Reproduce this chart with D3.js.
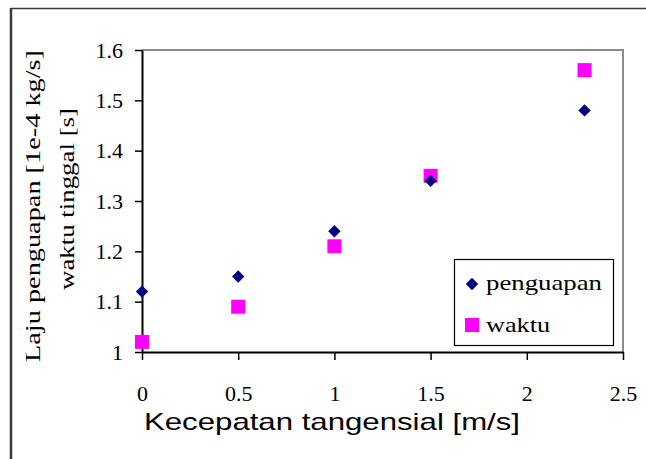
<!DOCTYPE html>
<html>
<head>
<meta charset="utf-8">
<script src="https://cdn.jsdelivr.net/npm/d3@7"></script>
<style>
  html, body { margin: 0; padding: 0; background: #fff; }
  svg { display: block; }
  .serif { font-family: "Liberation Serif", "Times New Roman", Times, serif; }
  .sans { font-family: "Liberation Sans", Arial, Helvetica, sans-serif; }
</style>
</head>
<body>
<svg id="chart" width="646" height="459"></svg>
<script>
/*global d3 */
// data
var speeds = [0, 0.5, 1, 1.5, 2.3];
var penguapan = [1.12, 1.15, 1.24, 1.34, 1.48];
var waktu = [1.02, 1.09, 1.21, 1.35, 1.56];
var xTicks = [0, 0.5, 1, 1.5, 2, 2.5];
var yTicks = [1, 1.1, 1.2, 1.3, 1.4, 1.5, 1.6];
var seriesNames = ["penguapan", "waktu"];

var svg = d3.select("#chart");

var x = d3.scaleLinear().domain([0, 2.5]).range([142, 623]);
var y = d3.scaleLinear().domain([1, 1.6]).range([352, 50]);

// outer frame (left and top edge only are visible)
svg.append("line").attr("x1", 11).attr("x2", 11).attr("y1", 8).attr("y2", 459)
    .attr("stroke", "#3a3a3a").attr("stroke-width", 2.5);
svg.append("line").attr("x1", 11).attr("x2", 646).attr("y1", 8.5).attr("y2", 8.5)
    .attr("stroke", "#3a3a3a").attr("stroke-width", 1.5);

// plot area border (top and right in gray)
svg.append("path")
    .attr("d", "M" + x(0) + "," + y(1.6) + "H" + x(2.5) + "V" + y(1))
    .attr("fill", "none").attr("stroke", "#8c8c8c").attr("stroke-width", 2);

var yAxis = svg.append("g").attr("transform", "translate(" + x(0) + ",0)")
    .call(d3.axisLeft(y).tickValues(yTicks).tickSize(7).tickSizeOuter(0).tickPadding(12)
        .tickFormat(function (d) { return String(d); }));
var xAxis = svg.append("g").attr("transform", "translate(0," + y(1) + ")")
    .call(d3.axisBottom(x).tickValues(xTicks).tickSize(8).tickSizeOuter(0).tickPadding(25)
        .tickFormat(function (d) { return String(d); }));

[yAxis, xAxis].forEach(function (g) {
    g.attr("font-family", null).attr("font-size", null).attr("class", "serif");
    g.select(".domain").attr("stroke", "#000").attr("stroke-width", 2);
    g.selectAll(".tick line").attr("stroke", "#000").attr("stroke-width", 1.5);
    g.selectAll(".tick text").attr("fill", "#000").attr("font-size", 22);
});

// markers
var diamond = d3.symbol().type(d3.symbolDiamond2).size(98);
svg.append("g").selectAll("rect").data(waktu).enter().append("rect")
    .attr("x", function (d, i) { return x(speeds[i]) - 7; })
    .attr("y", function (d) { return y(d) - 7; })
    .attr("width", 14).attr("height", 14)
    .attr("fill", "#ff00ff");
svg.append("g").selectAll("path").data(penguapan).enter().append("path")
    .attr("d", diamond)
    .attr("transform", function (d, i) { return "translate(" + x(speeds[i]) + "," + y(d) + ")"; })
    .attr("fill", "#000080");

// legend
var legend = svg.append("g");
legend.append("rect").attr("x", 454.5).attr("y", 259.5).attr("width", 159).attr("height", 86)
    .attr("fill", "#fff").attr("stroke", "#000").attr("stroke-width", 1.2);
legend.append("path").attr("d", diamond).attr("transform", "translate(472,284)").attr("fill", "#000080");
legend.append("rect").attr("x", 465).attr("y", 318).attr("width", 14).attr("height", 14).attr("fill", "#ff00ff");
legend.selectAll("text.lg").data(seriesNames).enter().append("text")
    .attr("class", "lg serif")
    .attr("x", 486)
    .attr("y", function (d, i) { return i === 0 ? 290 : 332; })
    .attr("textLength", function (d, i) { return i === 0 ? 116 : 64; })
    .attr("lengthAdjust", "spacingAndGlyphs")
    .attr("font-size", 22)
    .text(function (d) { return d; });

// axis titles
svg.append("text")
    .attr("class", "sans")
    .attr("x", 144).attr("y", 430)
    .attr("textLength", 376).attr("lengthAdjust", "spacingAndGlyphs")
    .attr("font-size", 24)
    .text("Kecepatan tangensial [m/s]");

svg.append("text")
    .attr("class", "serif")
    .attr("transform", "translate(40,206) rotate(-90)")
    .attr("text-anchor", "middle")
    .attr("textLength", 312).attr("lengthAdjust", "spacingAndGlyphs")
    .attr("font-size", 22)
    .text("Laju penguapan [1e-4 kg/s]");
svg.append("text")
    .attr("class", "serif")
    .attr("transform", "translate(74,199) rotate(-90)")
    .attr("text-anchor", "middle")
    .attr("textLength", 182).attr("lengthAdjust", "spacingAndGlyphs")
    .attr("font-size", 22)
    .text("waktu tinggal [s]");
</script>
</body>
</html>
